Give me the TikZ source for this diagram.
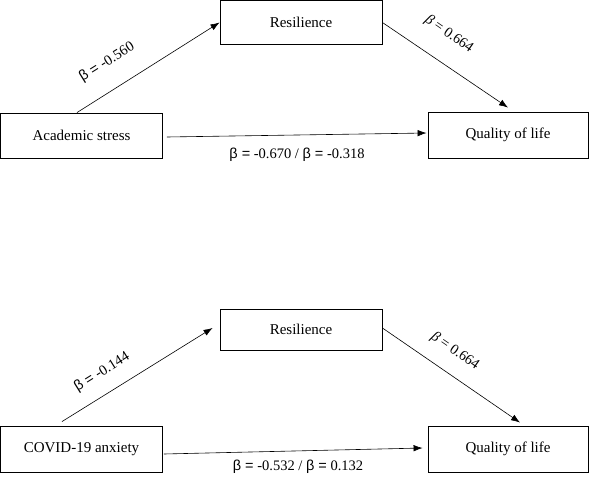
\documentclass[tikz,border=0pt]{standalone}
\usepackage{fontspec}
\setmainfont{Liberation Serif}
\newfontfamily\betafont{Liberation Sans}
\usetikzlibrary{arrows.meta}
\begin{document}
\begin{tikzpicture}[x=1pt,y=-1pt,
  box/.style={draw, line width=0.9pt, minimum width=162pt, minimum height=44pt, inner sep=0pt, font=\fontsize{15}{18}\selectfont},
  conn/.style={line width=0.6pt, -{Latex[length=9pt,width=6.5pt]}},
  lab/.style={font=\fontsize{14.5}{17}\selectfont, inner sep=0pt}]
\useasboundingbox (0,0) rectangle (590,480);
% top panel
\node[box] (res1) at (301,22.5) {Resilience};
\node[box, minimum height=45pt] (acad) at (81.5,135.5) {Academic stress};
\node[box, minimum width=160pt, minimum height=46pt] (qol1) at (508,135) {Quality of life};
\draw[conn] ([xshift=-4.5pt]acad.north) -- (res1.west);
\draw[conn] (res1.east) -- ([yshift=4pt]qol1.north);
\draw[conn] ([xshift=4pt,yshift=-1.5pt]acad.east) -- ([xshift=-1pt,yshift=2pt]qol1.west);
\node[lab, rotate=32] (l1) at (107,62) {{\betafont β =} -0.560};
\node[lab, rotate=-35] (l2) at (449,34) {\textit{β} = 0.664};
\node[lab] (l3) at (297,155) {{\betafont β =} -0.670 / {\betafont β =} -0.318};
% bottom panel
\node[box, minimum height=41pt] (res2) at (301,329.5) {Resilience};
\node[box, minimum height=46pt] (covid) at (81.5,449) {COVID-19 anxiety};
\node[box, minimum width=160pt, minimum height=46pt] (qol2) at (508,449) {Quality of life};
\draw[conn] ([xshift=-19.5pt,yshift=4pt]covid.north) -- ([xshift=-7pt,yshift=1.5pt]res2.west);
\draw[conn] ([yshift=1.5pt]res2.east) -- ([xshift=12pt,yshift=3pt]qol2.north);
\draw[conn] ([xshift=1pt,yshift=-5pt]covid.east) -- ([xshift=-5pt,yshift=1pt]qol2.west);
\node[lab, rotate=32] (l4) at (102,372) {{\betafont β =} -0.144};
\node[lab, rotate=-35] (l5) at (455,351) {\textit{β} = 0.664};
\node[lab] (l6) at (298,467) {{\betafont β =} -0.532 / {\betafont β =} 0.132};
\end{tikzpicture}
\end{document}
